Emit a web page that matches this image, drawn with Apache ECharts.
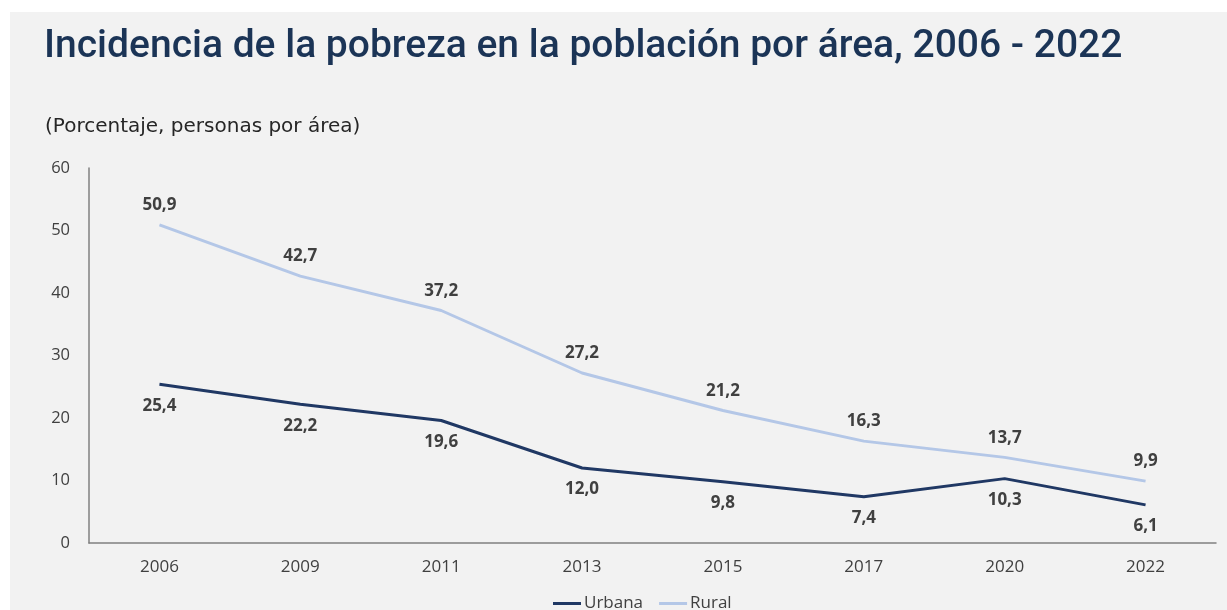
<!DOCTYPE html>
<html>
<head>
<meta charset="utf-8">
<script src="https://cdn.jsdelivr.net/npm/echarts@6/dist/echarts.min.js"></script>
<style>
  html, body { margin: 0; padding: 0; background: #fff; }
  #chart { position: absolute; left: 10px; top: 12px; width: 1217px; height: 598px; }
</style>
</head>
<body>
<div id="chart"></div>
<script>
// data
var years = ['2006', '2009', '2011', '2013', '2015', '2017', '2020', '2022'];
var urbana = [25.4, 22.2, 19.6, 12.0, 9.8, 7.4, 10.3, 6.1];
var rural = [50.9, 42.7, 37.2, 27.2, 21.2, 16.3, 13.7, 9.9];
var yTicks = [0, 10, 20, 30, 40, 50, 60];

var fmt = function (p) {
  return p.value.toFixed(1).replace('.', ',');
};

var myChart = echarts.init(document.getElementById('chart'));
var option = {
  backgroundColor: '#f2f2f2',
  animation: false,
  title: [
    {
      text: 'Incidencia de la pobreza en la población por área, 2006 - 2022',
      left: 29,
      top: 11,
      textStyle: {
        fontFamily: 'Roboto',
        fontWeight: 500,
        fontSize: 39,
        color: '#1b3456'
      }
    },
    {
      text: '(Porcentaje, personas por área)',
      left: 30,
      top: 100,
      textStyle: {
        fontFamily: 'DejaVu Sans',
        fontWeight: 'normal',
        fontSize: 20,
        color: '#262626'
      }
    }
  ],
  legend: {
    bottom: -7,
    left: 538,
    itemWidth: 28,
    itemHeight: 3,
    itemGap: 16,
    icon: 'rect',
    textStyle: { fontFamily: 'Open Sans', fontSize: 17, color: '#404040', padding: [0, 0, 0, -2] },
    data: ['Urbana', 'Rural']
  },
  grid: { left: 79, right: 11, top: 156, bottom: 67 },
  xAxis: {
    type: 'category',
    data: years,
    boundaryGap: true,
    axisLine: { lineStyle: { color: '#808080', width: 1.5 } },
    axisTick: { show: false },
    axisLabel: { margin: 16, fontFamily: 'Open Sans', fontSize: 17, color: '#404040' }
  },
  yAxis: {
    type: 'value',
    min: yTicks[0],
    max: yTicks[yTicks.length - 1],
    interval: 10,
    axisLine: { show: true, lineStyle: { color: '#808080', width: 1.5 } },
    axisTick: { show: false },
    splitLine: { show: false },
    axisLabel: { margin: 19, fontFamily: 'Open Sans', fontSize: 16.5, color: '#404040' }
  },
  series: [
    {
      name: 'Urbana',
      type: 'line',
      data: urbana,
      symbol: 'circle',
      symbolSize: 0,
      color: '#203864',
      lineStyle: { width: 3 },
      label: {
        show: true,
        position: 'bottom',
        distance: 13,
        formatter: fmt,
        fontFamily: 'Open Sans',
        fontWeight: 'bold',
        fontSize: 17,
        color: '#404040'
      }
    },
    {
      name: 'Rural',
      type: 'line',
      data: rural,
      symbol: 'circle',
      symbolSize: 0,
      color: '#b4c7e7',
      lineStyle: { width: 3 },
      label: {
        show: true,
        position: 'top',
        distance: 11,
        formatter: fmt,
        fontFamily: 'Open Sans',
        fontWeight: 'bold',
        fontSize: 17,
        color: '#404040'
      }
    }
  ]
};
myChart.setOption(option);
window.addEventListener('resize', function () {
  myChart.resize();
});
</script>
</body>
</html>
